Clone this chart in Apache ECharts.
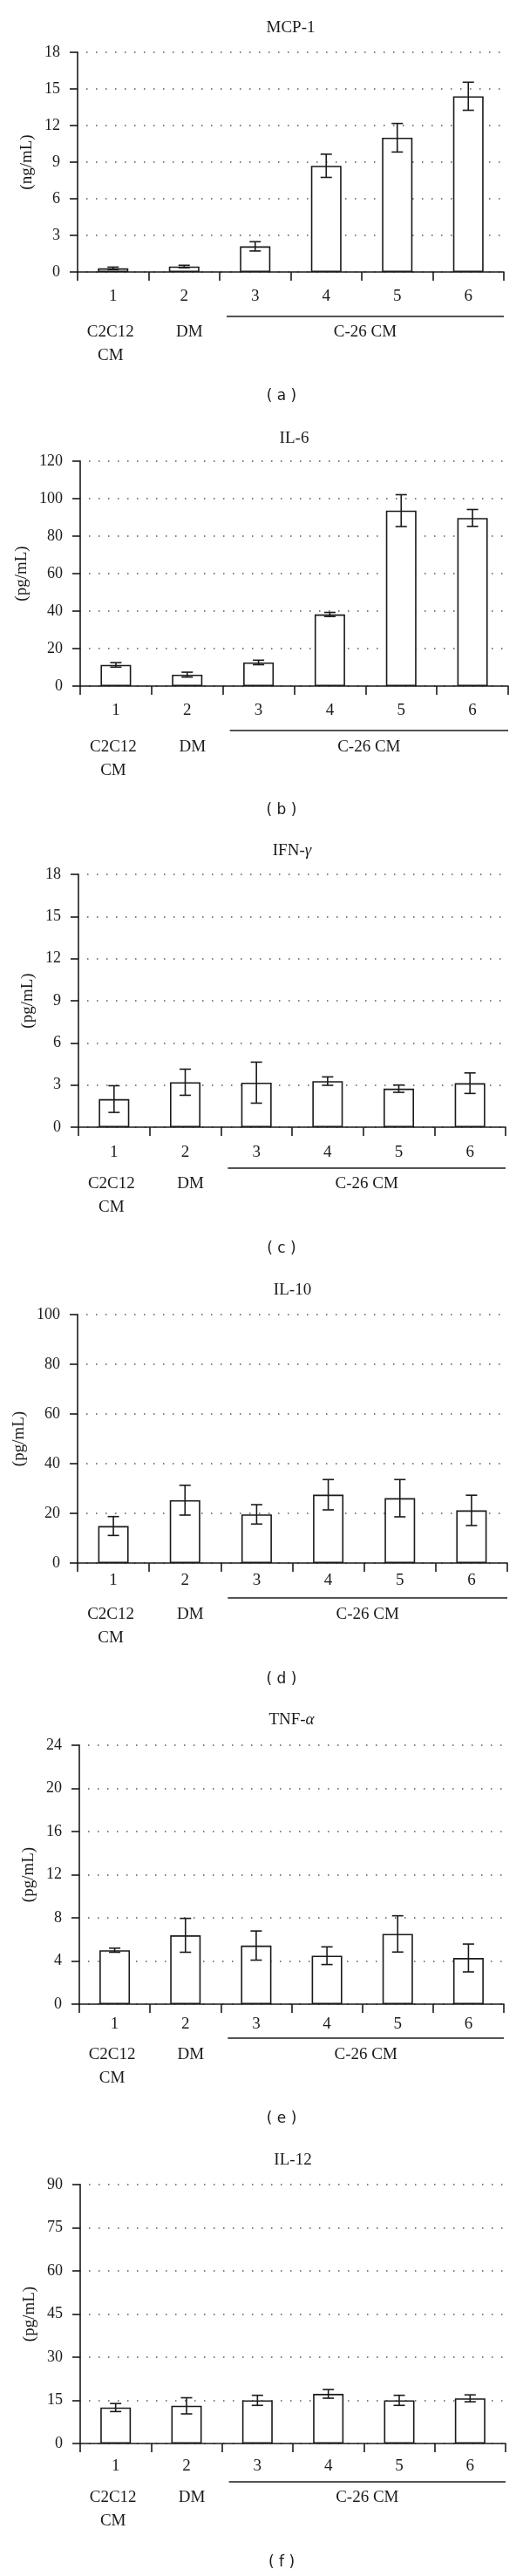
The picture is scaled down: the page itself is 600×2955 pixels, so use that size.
<!DOCTYPE html>
<html>
<head>
<meta charset="utf-8">
<script src="https://cdn.jsdelivr.net/npm/echarts@6/dist/echarts.min.js"></script>
<style>
  html, body { margin: 0; padding: 0; background: #fff; }
  #chart { width: 600px; height: 2955px; }
</style>
</head>
<body>
<div id="chart"></div>
<script>
// ---------- data ----------
const categories = ['1', '2', '3', '4', '5', '6'];

const mcp1Values = [0.3, 0.45, 2.1, 8.7, 11.0, 14.4];
const mcp1Errors = [0.1, 0.1, 0.38, 0.95, 1.17, 1.15];

const il6Values = [11.3, 6.1, 12.6, 38.2, 93.6, 89.7];
const il6Errors = [1.2, 1.3, 1.2, 1.1, 8.5, 4.5];

const ifngValues = [2.0, 3.2, 3.17, 3.28, 2.74, 3.13];
const ifngErrors = [0.95, 0.93, 1.46, 0.3, 0.26, 0.73];

const il10Values = [14.9, 25.3, 19.6, 27.5, 26.1, 21.2];
const il10Errors = [3.8, 6.0, 3.9, 6.1, 7.5, 6.1];

const tnfaValues = [5.0, 6.38, 5.43, 4.49, 6.51, 4.28];
const tnfaErrors = [0.19, 1.57, 1.35, 0.82, 1.68, 1.29];

const il12Values = [12.5, 13.1, 15.0, 17.25, 15.0, 15.7];
const il12Errors = [1.4, 2.8, 1.75, 1.5, 1.75, 1.2];

const panelTitles = [
  [{ t: 'MCP-1' }],
  [{ t: 'IL-6' }],
  [{ t: 'IFN-' }, { t: 'γ', i: true }],
  [{ t: 'IL-10' }],
  [{ t: 'TNF-' }, { t: 'α', i: true }],
  [{ t: 'IL-12' }]
];
const panelLetters = ['( a )', '( b )', '( c )', '( d )', '( e )', '( f )'];
const unitNames = ['(ng/mL)', '(pg/mL)', '(pg/mL)', '(pg/mL)', '(pg/mL)', '(pg/mL)'];
const yMax = [18, 120, 18, 100, 24, 90];
const yStep = [3, 20, 3, 20, 4, 15];

// group labels under the category axis
const groupLabels = [
  { lines: ['C2C12', 'CM'], from: 0, to: 0, bracket: false },
  { lines: ['DM'], from: 1, to: 1, bracket: false },
  { lines: ['C-26 CM'], from: 2, to: 5, bracket: true }
];

const seriesValues = [mcp1Values, il6Values, ifngValues, il10Values, tnfaValues, il12Values];
const seriesErrors = [mcp1Errors, il6Errors, ifngErrors, il10Errors, tnfaErrors, il12Errors];

// ---------- layout ----------
const layout = [
  { left: 89, width: 489, top: 60,   height: 252, titleY: 32,   labelGap: 18.5, bracketY: 363,  groupY: 381,  letterY: 455 },
  { left: 92, width: 491, top: 529,  height: 258, titleY: 503,  labelGap: 18.5, bracketY: 838,  groupY: 857,  letterY: 930 },
  { left: 90, width: 490, top: 1003, height: 290, titleY: 976,  labelGap: 19.5, bracketY: 1340, groupY: 1358, letterY: 1433 },
  { left: 89, width: 493, top: 1508, height: 285, titleY: 1480, labelGap: 10.5, bracketY: 1833, groupY: 1852, letterY: 1927 },
  { left: 91, width: 487, top: 2002, height: 297, titleY: 1973, labelGap: 13.5, bracketY: 2338, groupY: 2357, letterY: 2431 },
  { left: 92, width: 488, top: 2506, height: 297, titleY: 2478, labelGap: 16.5, bracketY: 2847, groupY: 2865, letterY: 2940 }
];
const groupDx = [-3, 6, 4];   // horizontal nudges of the group captions

const SERIF = "'Liberation Serif', 'DejaVu Serif', serif";
const SANS = "'DejaVu Sans', 'Liberation Sans', sans-serif";
const INK = '#1a1a1a';

const chart = echarts.init(document.getElementById('chart'), null, { renderer: 'canvas' });

const grids = [], xAxes = [], yAxes = [], series = [];
layout.forEach((L, i) => {
  grids.push({ left: L.left, top: L.top, width: L.width, height: L.height, containLabel: false });
  xAxes.push({
    type: 'category', gridIndex: i, data: categories,
    axisLine: { show: true, lineStyle: { color: INK, width: 1.6 } },
    axisTick: { show: true, alignWithLabel: false, length: 10, lineStyle: { color: INK, width: 1.6 } },
    axisLabel: { margin: L.labelGap, fontFamily: SERIF, fontSize: 19, color: INK },
    splitLine: { show: false }
  });
  yAxes.push({
    type: 'value', gridIndex: i, min: 0, max: yMax[i], interval: yStep[i],
    name: unitNames[i], nameLocation: 'middle', nameGap: 46, nameRotate: 90,
    nameTextStyle: { fontFamily: SERIF, fontSize: 19, color: INK },
    axisLine: { show: true, lineStyle: { color: INK, width: 1.6 } },
    axisTick: { show: true, inside: false, length: 9, lineStyle: { color: INK, width: 1.6 } },
    axisLabel: { margin: 20, fontFamily: SERIF, fontSize: 18, color: INK },
    splitLine: { show: true, lineStyle: { color: '#555', width: 1.5, type: [1.5, 9.5], dashOffset: -10 } }
  });
  series.push({
    type: 'bar', xAxisIndex: i, yAxisIndex: i, data: seriesValues[i], barWidth: 35,
    itemStyle: { color: '#fff', borderColor: INK, borderWidth: 1.6 },
    emphasis: { disabled: true }, z: 2, animation: false
  });
  series.push({
    type: 'custom', xAxisIndex: i, yAxisIndex: i,
    data: seriesValues[i].map((v, k) => [k, v, seriesErrors[i][k]]),
    renderItem: function (params, api) {
      const x = api.value(0), v = api.value(1), e = api.value(2);
      const top = api.coord([x, v + e]);
      const bot = api.coord([x, v - e]);
      const hw = 6.5;
      const st = { stroke: INK, lineWidth: 1.6 };
      return {
        type: 'group',
        children: [
          { type: 'line', shape: { x1: top[0], y1: top[1], x2: bot[0], y2: bot[1] }, style: st },
          { type: 'line', shape: { x1: top[0] - hw, y1: top[1], x2: top[0] + hw, y2: top[1] }, style: st },
          { type: 'line', shape: { x1: bot[0] - hw, y1: bot[1], x2: bot[0] + hw, y2: bot[1] }, style: st }
        ]
      };
    },
    z: 5, animation: false
  });
});

chart.setOption({
  animation: false,
  backgroundColor: '#fff',
  grid: grids, xAxis: xAxes, yAxis: yAxes, series: series
});

// ---------- annotations tied to the category scale ----------
const graphics = [];
layout.forEach((L, i) => {
  const rich = { n: { fontFamily: SERIF, fontSize: 19, fill: INK }, i: { fontFamily: SERIF, fontSize: 19, fontStyle: 'italic', fill: INK } };
  const text = panelTitles[i].map(p => (p.i ? '{i|' : '{n|') + p.t + '}').join('');
  graphics.push({
    type: 'text', x: L.left + L.width / 2, y: L.titleY,
    style: { text: text, rich: rich, align: 'center', verticalAlign: 'middle', fill: INK, fontFamily: SERIF, fontSize: 19 }
  });
  graphics.push({
    type: 'text', x: 323, y: L.letterY,
    style: { text: panelLetters[i], align: 'center', verticalAlign: 'middle', fill: INK, fontFamily: SANS, fontSize: 17 }
  });
  const pxOf = k => {
    const r = chart.convertToPixel({ xAxisIndex: i }, k);
    return Array.isArray(r) ? r[0] : r;
  };
  const band = pxOf(1) - pxOf(0);
  groupLabels.forEach((g, gi) => {
    const cx = (pxOf(g.from) + pxOf(g.to)) / 2 + groupDx[gi];
    g.lines.forEach((line, j) => {
      graphics.push({
        type: 'text', x: cx, y: L.groupY + j * 27,
        style: { text: line, align: 'center', verticalAlign: 'middle', fill: INK, fontFamily: SERIF, fontSize: 19 }
      });
    });
    if (g.bracket) {
      graphics.push({
        type: 'line',
        shape: { x1: pxOf(g.from) - band / 2 + 8, y1: L.bracketY, x2: pxOf(g.to) + band / 2, y2: L.bracketY },
        style: { stroke: INK, lineWidth: 1.6 }
      });
    }
  });
});
chart.setOption({ graphic: graphics });
</script>
</body>
</html>
